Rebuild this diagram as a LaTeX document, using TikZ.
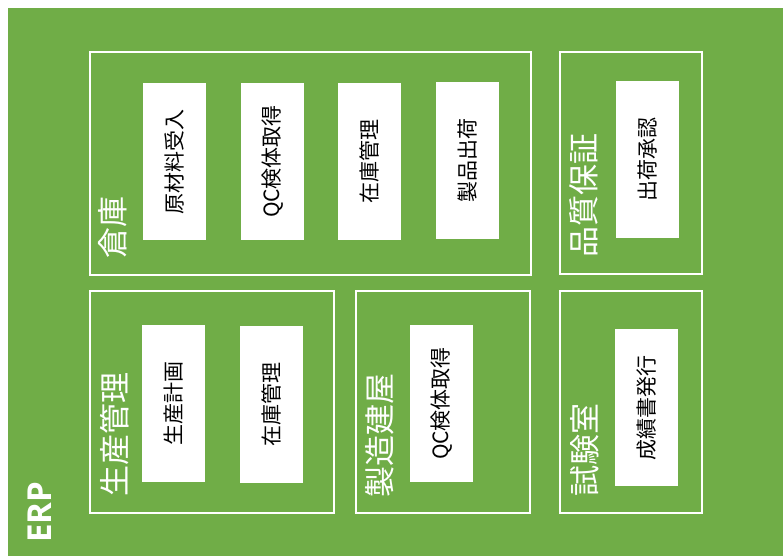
\documentclass[tikz,border=0pt]{standalone}
\usepackage{fontspec}
\setmainfont{Noto Sans CJK JP}
\newfontfamily\erpfont{Open Sans}
\definecolor{erpgreen}{RGB}{112,173,71}
\begin{document}
\begin{tikzpicture}[x=1pt,y=-1pt,
  container/.style={draw=white, line width=2pt, inner sep=0pt, minimum width=#1},
  taskbox/.style={fill=white, draw=none, rotate=90, minimum width=157pt, minimum height=63pt, inner sep=0pt, font=\fontsize{21}{23}\selectfont, text=black},
  grouplabel/.style={rotate=90, text=white, inner sep=0pt, font=\fontsize{31}{33}\selectfont}
]
\useasboundingbox (0,0) rectangle (783,556);
\fill[white] (0,0) rectangle (783,556);
\fill[erpgreen] (8,8) rectangle (783,556);

% containers
\node[container=441pt, minimum height=223pt] (warehouse) at (310.5,163.5) {};
\node[container=142pt, minimum height=222pt] (qa) at (631,163) {};
\node[container=244pt, minimum height=222pt] (prod) at (212,402) {};
\node[container=174pt, minimum height=222pt] (mfg) at (443,402) {};
\node[container=142pt, minimum height=222pt] (lab) at (631,402) {};

% group labels
\node[grouplabel] (lwarehouse) at (113,227) {倉庫};
\node[grouplabel] (lqa) at (584,195) {品質保証};
\node[grouplabel] (lprod) at (115,434) {生産管理};
\node[grouplabel] (lmfg) at (380,435) {製造建屋};
\node[grouplabel] (llab) at (585,450) {試験室};
\node[rotate=90, text=white, inner sep=0pt, font=\erpfont\bfseries\fontsize{33}{35}\selectfont] (erp) at (40,512) {ERP};

% task boxes
\node[taskbox] (t1) at (174.5,161.5) {原材料受入};
\node[taskbox] (t2) at (272.5,161.5) {QC検体取得};
\node[taskbox] (t3) at (369.5,161.5) {在庫管理};
\node[taskbox] (t4) at (467.5,160.5) {製品出荷};
\node[taskbox] (t5) at (647.5,159.5) {出荷承認};
\node[taskbox] (t6) at (173.5,403.5) {生産計画};
\node[taskbox] (t7) at (271.5,404.5) {在庫管理};
\node[taskbox] (t8) at (441.5,403.5) {QC検体取得};
\node[taskbox] (t9) at (646.5,407.5) {成績書発行};
\end{tikzpicture}
\end{document}
